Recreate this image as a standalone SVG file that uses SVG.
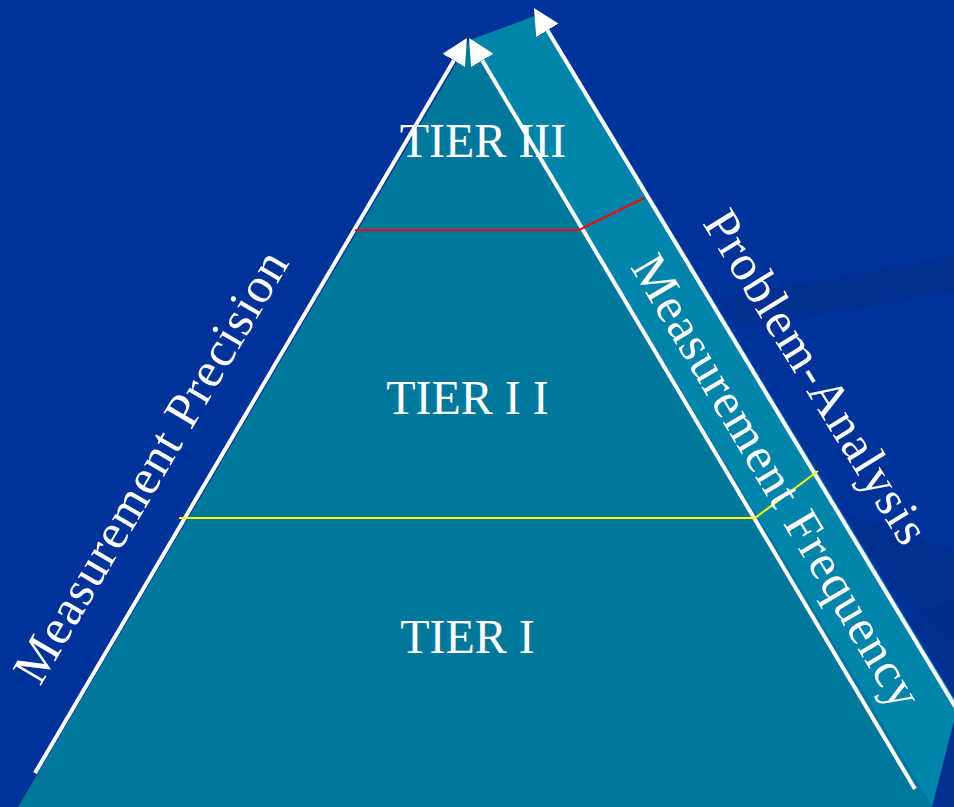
<svg xmlns="http://www.w3.org/2000/svg" width="954" height="807" viewBox="0 0 954 807">
  <defs>
    <style>
      .bg { fill: #003399; }
      .shade { fill: #00287f; opacity: 0.25; }
      .front { fill: #00779b; }
      .side { fill: #0084aa; }
      .wline { stroke: #ffffff; stroke-width: 4; fill: none; }
      .tier { font-family: "Liberation Serif", "Times New Roman", serif; font-size: 48px; fill: #ffffff; text-anchor: middle; }
      .axis { font-family: "Liberation Serif", "Times New Roman", serif; font-size: 50px; fill: #ffffff; }
    </style>
    <marker id="arrow" markerUnits="userSpaceOnUse" viewBox="0 0 26 26" refX="0" refY="13" markerWidth="26" markerHeight="26" orient="auto">
      <path d="M0,0 L26,13 L0,26 Z" fill="#ffffff"/>
    </marker>
  </defs>

  <rect class="bg" x="0" y="0" width="954" height="807"/>
  <g id="background-shading">
    <polygon class="shade" points="715,300 954,255 954,292 745,328"/>
    <polygon class="shade" points="840,512 954,550 954,640 900,600"/>
    <polygon class="shade" points="900,620 954,600 954,807 920,807"/>
  </g>

  <g id="pyramid">
    <polygon id="side-face" class="side" points="470,40 540,14 958,705 932,807"/>
    <polygon id="front-face" class="front" points="470,40 18,807 932,807"/>
  </g>

  <g id="connectors">
    <line id="precision-arrow" class="wline" x1="35" y1="773" x2="453.8" y2="60.4" marker-end="url(#arrow)"/>
    <line id="frequency-arrow" class="wline" x1="915" y1="789" x2="482.3" y2="60.4" marker-end="url(#arrow)"/>
    <line id="analysis-arrow" class="wline" x1="962" y1="718" x2="547.4" y2="30.3" marker-end="url(#arrow)"/>
    <polyline id="tier-boundary-red" points="355,230 579,230 644,198" fill="none" stroke="#ff0000" stroke-width="2"/>
    <polyline id="tier-boundary-yellow" points="179,518 755,518 818,471" fill="none" stroke="#ffff00" stroke-width="2"/>
  </g>

  <g id="tier3"><text class="tier" x="483" y="157">TIER III</text></g>
  <g id="tier2"><text class="tier" x="467.5" y="414">TIER I I</text></g>
  <g id="tier1"><text class="tier" x="467.5" y="653">TIER I</text></g>

  <g id="label-precision">
    <text class="axis" transform="translate(40,687) rotate(-59.5)" textLength="492" lengthAdjust="spacing">Measurement Precision</text>
  </g>
  <g id="label-frequency">
    <text class="axis" transform="translate(630,267) rotate(59.2)" textLength="518" lengthAdjust="spacing">Measurement Frequency</text>
  </g>
  <g id="label-analysis">
    <text class="axis" transform="translate(702,223) rotate(58.3)" textLength="382" lengthAdjust="spacing">Problem-Analysis</text>
  </g>
</svg>
